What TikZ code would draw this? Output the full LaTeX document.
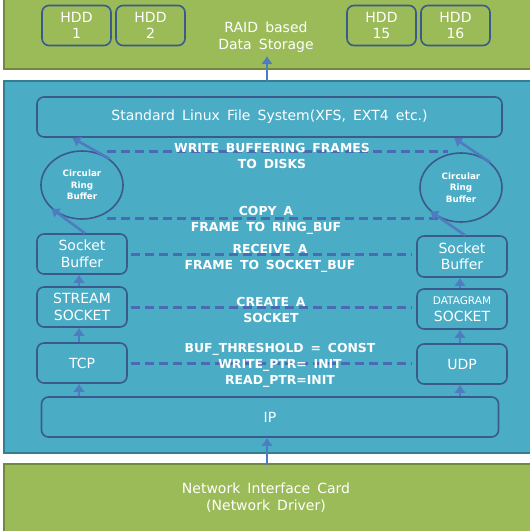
\documentclass[tikz,border=0pt]{standalone}
\usepackage{fontspec}
\setmainfont{DejaVu Sans}[WordSpace=1.6]
\usetikzlibrary{arrows.meta,shapes.geometric}
\definecolor{bgblue}{HTML}{4BACC6}
\definecolor{bgborder}{HTML}{357D91}
\definecolor{grn}{HTML}{9BBB59}
\definecolor{grnborder}{HTML}{71893F}
\definecolor{navy}{HTML}{3A5A8C}
\definecolor{arr}{HTML}{4F7CC0}
\definecolor{dsh}{HTML}{4A6AB4}
\begin{document}
\begin{tikzpicture}[x=1pt,y=-1pt,
  box/.style={draw=navy, line width=1.6pt, rounded corners=7pt, text=white, align=center, inner sep=0pt, font=\fontsize{14}{16.5}\selectfont},
  ring/.style={ellipse, draw=navy, line width=1.6pt, text=white, align=center, inner sep=0pt, font=\fontsize{8.8}{11.5}\selectfont\bfseries},
  plain/.style={text=white, align=center, inner sep=0pt},
  lbl/.style={text=white, align=center, inner sep=0pt, font=\fontsize{12.4}{16}\selectfont\bfseries},
  upar/.style={draw=arr, line width=2.6pt, -{Latex[length=8pt,width=12pt]}},
  dline/.style={draw=dsh, line width=3pt, dash pattern=on 9pt off 5pt}]
\useasboundingbox (0,0) rectangle (530,531);
\fill[white] (0,0) rectangle (530,531);
% top storage band
\path[fill=grn, draw=grnborder, line width=1.5pt] (4,-2) rectangle (533,69);
\node[box, minimum width=69pt, minimum height=40pt] (hdd1) at (76.5,25.5) {HDD\\1};
\node[box, minimum width=69pt, minimum height=40pt] (hdd2) at (150.5,25.5) {HDD\\2};
\node[box, minimum width=69pt, minimum height=40pt] (hdd15) at (381.5,25.5) {HDD\\15};
\node[box, minimum width=69pt, minimum height=40pt] (hdd16) at (455.5,25.5) {HDD\\16};
\node[plain, font=\fontsize{14}{17}\selectfont] (raid) at (266,37.5) {RAID based\\Data Storage};
% blue host band
\path[fill=bgblue, draw=bgborder, line width=1.5pt] (4,81) rectangle (533,453);
% bottom NIC band
\path[fill=grn, draw=grnborder, line width=1.5pt] (4,464) rectangle (533,533);
\node[plain, font=\fontsize{14}{17}\selectfont] (nic) at (266,497.5) {Network Interface Card\\(Network Driver)};
% boxes
\node[box, minimum width=465pt, minimum height=40pt] (fs) at (269.5,117) {Standard Linux File System(XFS, EXT4 etc.)};
\node[ring, minimum width=82pt, minimum height=68pt] (rl) at (82,185) {Circular\\Ring\\Buffer};
\node[ring, minimum width=82pt, minimum height=69pt] (rr) at (461,187.5) {Circular\\Ring\\Buffer};
\node[box, minimum width=90pt, minimum height=40pt] (sbl) at (82,254) {Socket\\Buffer};
\node[box, minimum width=90pt, minimum height=41pt] (sbr) at (462,256.5) {Socket\\Buffer};
\node[box, minimum width=90pt, minimum height=40pt] (stream) at (82,307) {STREAM\\SOCKET};
\node[box, minimum width=90pt, minimum height=40pt] (dgram) at (462,309) {{\fontsize{10.5}{13}\selectfont DATAGRAM}\\SOCKET};
\node[box, minimum width=90pt, minimum height=40pt] (tcp) at (82,363) {TCP};
\node[box, minimum width=90pt, minimum height=40pt] (udp) at (462,364) {UDP};
\node[box, minimum width=457pt, minimum height=40pt] (ip) at (270,417) {IP};
% dashed relations
\coordinate (d1a) at (107,151);
\coordinate (d1b) at (448,151);
\coordinate (d2a) at (107,218);
\coordinate (d2b) at (438,218);
\draw[dline] (d1a) -- (d1b);
\draw[dline] (d2a) -- (d2b);
\draw[dline, shorten <=3pt, shorten >=5pt] (sbl.east) -- (sbl.east -| sbr.west);
\draw[dline, shorten <=3pt, shorten >=5pt] (stream.east) -- (stream.east -| dgram.west);
\draw[dline, shorten <=3pt, shorten >=5pt] (tcp.east) -- (tcp.east -| udp.west);
% labels
\node[lbl] (l1) at (272,156) {WRITE BUFFERING FRAMES\\TO DISKS};
\node[lbl] (l2) at (266,220) {COPY A\\FRAME TO RING\_BUF};
\node[lbl] (l3) at (270,258.5) {RECEIVE A\\FRAME TO SOCKET\_BUF};
\node[lbl] (l4) at (271,309.5) {CREATE A\\SOCKET};
\node[lbl] (l5) at (280,365) {BUF\_THRESHOLD = CONST\\WRITE\_PTR= INIT\\READ\_PTR=INIT};
% arrows
\coordinate (bluetop) at (267,81);
\coordinate (raidin) at (267,56);
\draw[upar] (bluetop) -- (raidin);
\coordinate (nictop) at (267,465);
\draw[upar] (nictop) -- (nictop |- ip.south);
\draw[upar] ([xshift=-3pt]tcp.south |- ip.north) -- ([xshift=-3pt]tcp.south);
\draw[upar] ([xshift=-3pt]tcp.north) -- ([xshift=-3pt]stream.south);
\draw[upar] ([xshift=-3pt]stream.north) -- ([xshift=-3pt]sbl.south);
\draw[upar] ([xshift=-2pt]udp.south |- ip.north) -- ([xshift=-2pt]udp.south);
\draw[upar] ([xshift=-2pt]udp.north) -- ([xshift=-2pt]dgram.south);
\draw[upar] ([xshift=-2pt]dgram.north) -- ([xshift=-2pt]sbr.south);
\draw[upar] ([xshift=3pt]sbl.north) -- (rl.217);
\draw[upar] ([xshift=3pt]sbr.north) -- (rr.217);
\draw[upar] (rl.44) -- ([xshift=36pt]fs.south west);
\draw[upar] (rr.41) -- ([xshift=-49pt]fs.south east);
\end{tikzpicture}
\end{document}
